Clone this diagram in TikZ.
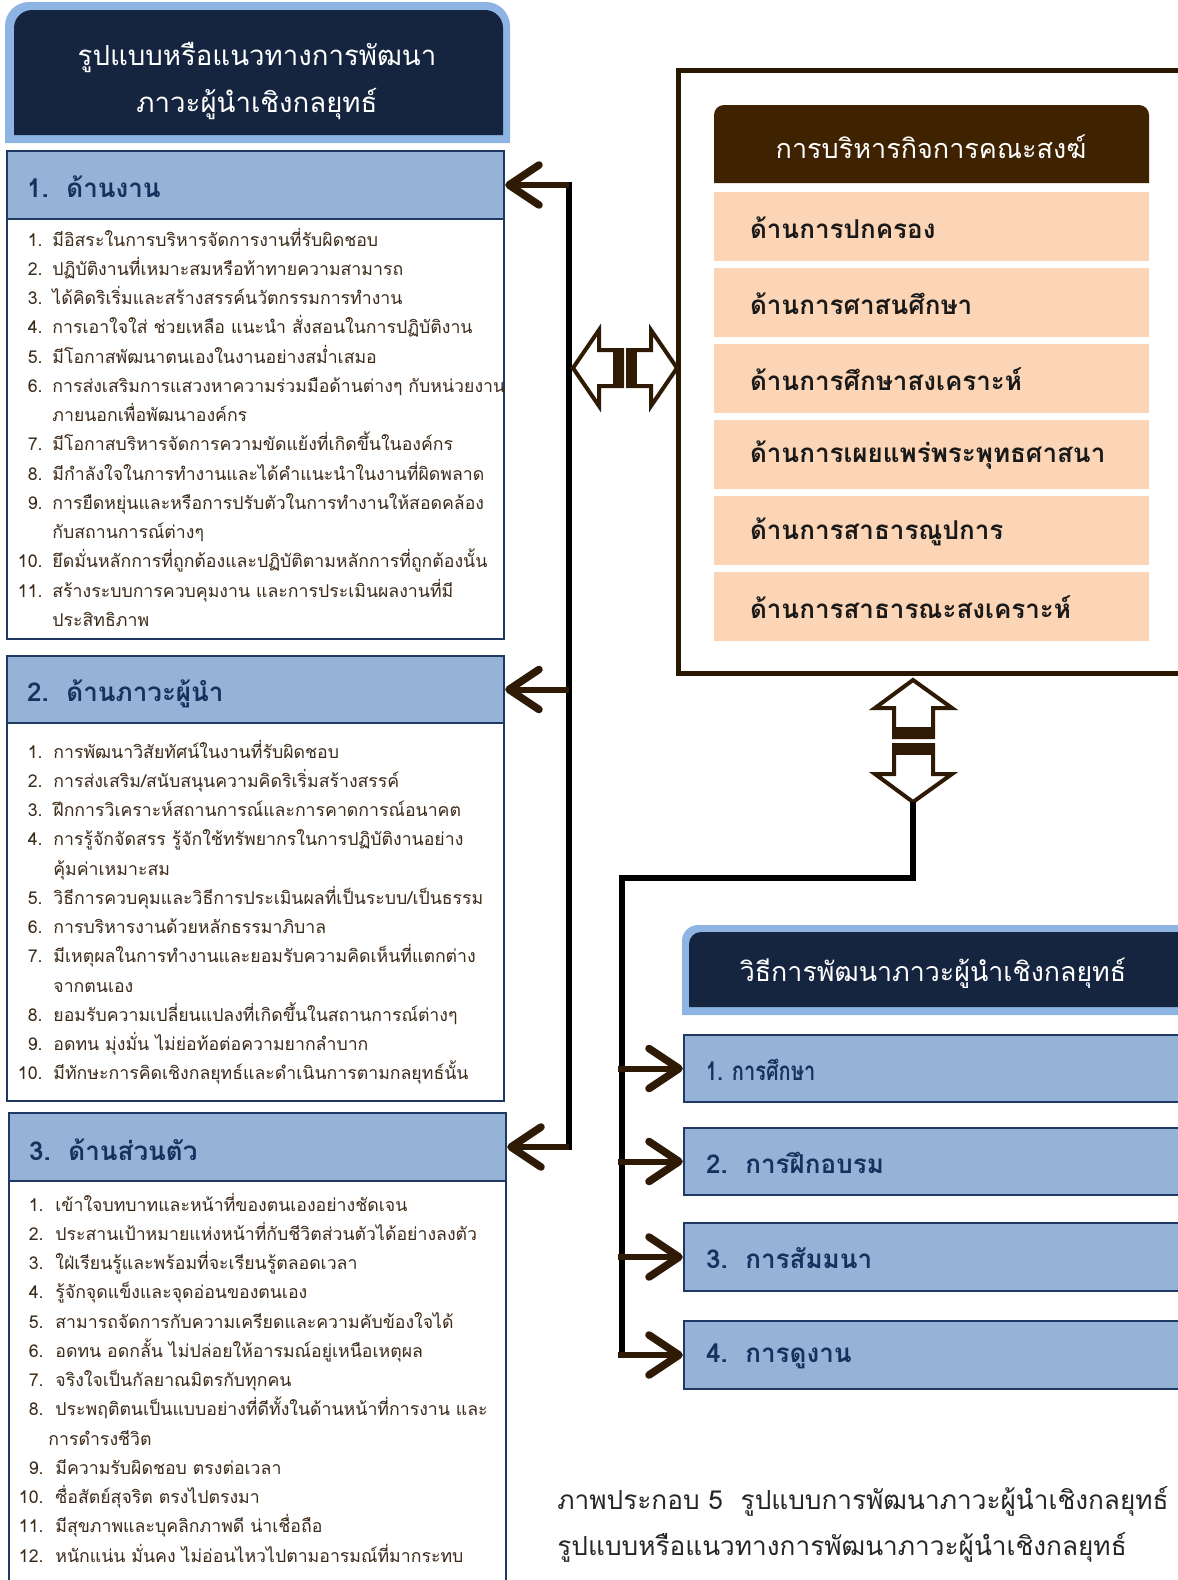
\documentclass[tikz,border=0pt]{standalone}
\usepackage{fontspec}
\setmainfont[Script=Thai]{Loma}
\newfontfamily\condensedthai[Script=Thai,FakeStretch=0.77]{Loma}
\usetikzlibrary{arrows.meta,fit}

\definecolor{navy}{HTML}{15243F}
\definecolor{frameblue}{HTML}{8DB4E2}
\definecolor{hdrblue}{HTML}{95B3D7}
\definecolor{navyline}{HTML}{1F3864}
\definecolor{navytext}{HTML}{17305E}
\definecolor{darkbrown}{HTML}{3F2200}
\definecolor{peach}{HTML}{FBD5B5}
\definecolor{arrowbrown}{HTML}{2F1A06}
\definecolor{listtext}{HTML}{3D2B1A}
\definecolor{framebrown}{HTML}{2A1700}
\definecolor{captiontext}{HTML}{262626}

\newcommand\listfont{\fontsize{8.85}{11}\selectfont}

% one numbered list: prefix, x of numbers, x of text, first baseline, entries
\newcommand\itemlist[5]{%
  \foreach [count=\i] \num/\txt in {#5} {
    \pgfmathsetmacro\yb{#4+(\i-1)*29.25}
    \node[listnum] (#1n\i) at (#2,\yb) {\num};
    \node[listline] (#1t\i) at (#3,\yb) {\txt};
  }}

\begin{document}
\begin{tikzpicture}[x=0.5pt,y=-0.5pt,
  hdr/.style={draw=navyline, line width=1.2pt, fill=hdrblue, inner sep=0pt},
  bodybox/.style={draw=navyline, line width=0.9pt, fill=white, inner sep=0pt},
  hdrtext/.style={text=navytext, font=\fontsize{13}{16}\selectfont\bfseries, inner sep=0pt, anchor=west},
  listnum/.style={text=listtext, font=\listfont, inner sep=0pt, anchor=base east},
  listline/.style={text=listtext, font=\listfont, inner sep=0pt, anchor=base west},
  peachrow/.style={fill=peach, inner sep=0pt},
  rowtext/.style={text=black!90, font=\fontsize{13}{16}\selectfont\bfseries, inner sep=0pt, anchor=west},
  whitetext/.style={text=white, font=\fontsize{13.8}{23.5}\selectfont, inner sep=0pt, align=center},
  frame/.style={draw=framebrown, line width=2.5pt, inner sep=0pt},
  spine/.style={draw=black, line width=3pt, line join=miter},
  linkarrow/.style={draw=arrowbrown, line width=3pt,
    -{Straight Barb[length=15pt,width=20pt,line width=3.8pt,round]}},
  hollow/.style={draw=arrowbrown, line width=2pt, fill=white, line join=miter},
  bar/.style={fill=arrowbrown},
  captionline/.style={text=captiontext, font=\fontsize{13.1}{18}\selectfont, inner sep=0pt, anchor=west}
]
\useasboundingbox (0,0) rectangle (1178,1580);
\clip (0,0) rectangle (1178,1580);

% ---------- title block ----------
\fill[frameblue] (5,143) [rounded corners=12pt] -- (5,2) -- (510,2) [sharp corners] -- (510,143) -- cycle;
\fill[navy] (14,135) [rounded corners=9pt] -- (14,10) -- (503,10) [sharp corners] -- (503,135) -- cycle;
\node[whitetext] (title) at (257,81) {รูปแบบหรือแนวทางการพัฒนา\\ภาวะผู้นำเชิงกลยุทธ์};

% ---------- three aspect boxes ----------
\node[bodybox, fit={(7,219) (504,639)}] (b1) {};
\node[hdr, fit={(7,151) (504,219)}] (h1) {};
\node[hdrtext] (h1t) at ([xshift=10.5pt,yshift=-1pt]h1.west) {1.\ \ ด้านงาน};

\node[bodybox, fit={(7,723) (504,1101)}] (b2) {};
\node[hdr, fit={(7,656) (504,723)}] (h2) {};
\node[hdrtext] (h2t) at ([xshift=10.5pt,yshift=-2pt]h2.west) {2.\ \ ด้านภาวะผู้นำ};

\node[bodybox, fit={(9,1181) (506,1620)}] (b3) {};
\node[hdr, fit={(9,1113) (506,1181)}] (h3) {};
\node[hdrtext] (h3t) at ([xshift=10.5pt,yshift=-1.5pt]h3.west) {3.\ \ ด้านส่วนตัว};

\itemlist{wa}{43}{52}{246}{
  {1.}/{มีอิสระในการบริหารจัดการงานที่รับผิดชอบ},
  {2.}/{ปฏิบัติงานที่เหมาะสมหรือท้าทายความสามารถ},
  {3.}/{ได้คิดริเริ่มและสร้างสรรค์นวัตกรรมการทำงาน},
  {4.}/{การเอาใจใส่ ช่วยเหลือ แนะนำ สั่งสอนในการปฏิบัติงาน},
  {5.}/{มีโอกาสพัฒนาตนเองในงานอย่างสม่ำเสมอ},
  {6.}/{การส่งเสริมการแสวงหาความร่วมมือด้านต่างๆ กับหน่วยงาน},
  {}/{ภายนอกเพื่อพัฒนาองค์กร},
  {7.}/{มีโอกาสบริหารจัดการความขัดแย้งที่เกิดขึ้นในองค์กร},
  {8.}/{มีกำลังใจในการทำงานและได้คำแนะนำในงานที่ผิดพลาด},
  {9.}/{การยืดหยุ่นและหรือการปรับตัวในการทำงานให้สอดคล้อง},
  {}/{กับสถานการณ์ต่างๆ},
  {10.}/{ยึดมั่นหลักการที่ถูกต้องและปฏิบัติตามหลักการที่ถูกต้องนั้น},
  {11.}/{สร้างระบบการควบคุมงาน และการประเมินผลงานที่มี},
  {}/{ประสิทธิภาพ}}

\itemlist{wb}{43}{53}{758}{
  {1.}/{การพัฒนาวิสัยทัศน์ในงานที่รับผิดชอบ},
  {2.}/{การส่งเสริม/สนับสนุนความคิดริเริ่มสร้างสรรค์},
  {3.}/{ฝึกการวิเคราะห์สถานการณ์และการคาดการณ์อนาคต},
  {4.}/{การรู้จักจัดสรร รู้จักใช้ทรัพยากรในการปฏิบัติงานอย่าง},
  {}/{คุ้มค่าเหมาะสม},
  {5.}/{วิธีการควบคุมและวิธีการประเมินผลที่เป็นระบบ/เป็นธรรม},
  {6.}/{การบริหารงานด้วยหลักธรรมาภิบาล},
  {7.}/{มีเหตุผลในการทำงานและยอมรับความคิดเห็นที่แตกต่าง},
  {}/{จากตนเอง},
  {8.}/{ยอมรับความเปลี่ยนแปลงที่เกิดขึ้นในสถานการณ์ต่างๆ},
  {9.}/{อดทน มุ่งมั่น ไม่ย่อท้อต่อความยากลำบาก},
  {10.}/{มีทักษะการคิดเชิงกลยุทธ์และดำเนินการตามกลยุทธ์นั้น}}

\itemlist{wc}{44}{55}{1211}{
  {1.}/{เข้าใจบทบาทและหน้าที่ของตนเองอย่างชัดเจน},
  {2.}/{ประสานเป้าหมายแห่งหน้าที่กับชีวิตส่วนตัวได้อย่างลงตัว},
  {3.}/{ใฝ่เรียนรู้และพร้อมที่จะเรียนรู้ตลอดเวลา},
  {4.}/{รู้จักจุดแข็งและจุดอ่อนของตนเอง},
  {5.}/{สามารถจัดการกับความเครียดและความคับข้องใจได้},
  {6.}/{อดทน อดกลั้น ไม่ปล่อยให้อารมณ์อยู่เหนือเหตุผล},
  {7.}/{จริงใจเป็นกัลยาณมิตรกับทุกคน},
  {8.}/{ประพฤติตนเป็นแบบอย่างที่ดีทั้งในด้านหน้าที่การงาน และ},
  {}/{\kern-3.5pt การดำรงชีวิต},
  {9.}/{มีความรับผิดชอบ ตรงต่อเวลา},
  {10.}/{ซื่อสัตย์สุจริต ตรงไปตรงมา},
  {11.}/{มีสุขภาพและบุคลิกภาพดี น่าเชื่อถือ},
  {12.}/{หนักแน่น มั่นคง ไม่อ่อนไหวไปตามอารมณ์ที่มากระทบ}}

% ---------- left spine feeding the three aspects ----------
\coordinate (j1) at (569,185);
\coordinate (j2) at (569,689.5);
\coordinate (j3) at (569,1147);
\draw[spine, line cap=rect] (j1) -- (j3);
\draw[linkarrow] (j1) -- (h1.east);
\draw[linkarrow] (j2) -- (h2.east);
\draw[linkarrow] (j3) -- (h3.east);

% ---------- sangha administration frame ----------
\node[frame, fit={(678,70) (1210,673)}] (frame) {};
\fill[darkbrown] (714,183) [rounded corners=5pt] -- (714,105) -- (1149,105) [sharp corners] -- (1149,183) -- cycle;
\node[text=white, font=\fontsize{13.5}{16}\selectfont, inner sep=0pt] (adm) at (931,147) {การบริหารกิจการคณะสงฆ์};

\foreach [count=\i] \top/\txt in {192/ด้านการปกครอง, 268/ด้านการศาสนศึกษา, 344/ด้านการศึกษาสงเคราะห์,
    420/ด้านการเผยแพร่พระพุทธศาสนา, 496/ด้านการสาธารณูปการ, 572/ด้านการสาธารณะสงเคราะห์} {
  \pgfmathsetmacro\bot{\top+69}
  \node[peachrow, fit={(714,\top) (1149,\bot)}] (r\i) {};
  \node[rowtext] (r\i t) at ([xshift=18pt,yshift=-0.5pt]r\i.west) {\txt};
}

% ---------- two-way link between the aspects and the frame ----------
\draw[hollow] (573,368) -- (599,330) -- (599,350) -- (622,350) -- (622,386) -- (599,386) -- (599,406) -- cycle;
\fill[bar] (613,350) rectangle (622,386);
\draw[hollow] (677,368) -- (651,330) -- (651,350) -- (628,350) -- (628,386) -- (651,386) -- (651,406) -- cycle;
\fill[bar] (628,350) rectangle (637,386);

% ---------- two-way link between the frame and the methods ----------
\draw[hollow] (913,680) -- (952,708) -- (933,708) -- (933,737) -- (894,737) -- (894,708) -- (875,708) -- cycle;
\fill[bar] (894,727) rectangle (933,737);
\draw[hollow] (913,802) -- (952,774) -- (933,774) -- (933,745) -- (894,745) -- (894,774) -- (875,774) -- cycle;
\fill[bar] (894,745) rectangle (933,755);

% ---------- development methods ----------
\fill[frameblue] (1210,1015) -- (682,1015) [rounded corners=8pt] -- (682,925) [sharp corners] -- (1210,925) -- cycle;
\fill[navy] (1210,1007) -- (689,1007) [rounded corners=6pt] -- (689,932) [sharp corners] -- (1210,932) -- cycle;
\node[whitetext, font=\fontsize{13.4}{16}\selectfont] (meth) at (933,973) {วิธีการพัฒนาภาวะผู้นำเชิงกลยุทธ์};

\foreach [count=\i] \top/\bot/\txt in {1035/1102/{{\condensedthai 1. การศึกษา}}, 1128/1195/{2.\ \ การฝึกอบรม},
    1223/1291/{3.\ \ การสัมมนา}, 1321/1389/{4.\ \ การดูงาน}} {
  \node[hdr, fit={(684,\top) (1210,\bot)}] (m\i) {};
  \node[hdrtext] (m\i t) at ([xshift=11.5pt,yshift=-0.5pt]m\i.west) {\txt};
}

\coordinate (dtip) at (913,802);
\coordinate (k4) at (622,1355);
\draw[spine] (dtip) -- (913,878) -- (622,878) -- ([yshift=-1.5pt]k4);
\foreach \i/\yy in {1/1068.5, 2/1161.5, 3/1257, 4/1355}
  \draw[linkarrow] (618,\yy) -- (m\i.west);

% ---------- caption ----------
\node[captionline] (cap1) at (557,1501) {ภาพประกอบ 5\ \ รูปแบบการพัฒนาภาวะผู้นำเชิงกลยุทธ์};
\node[captionline] (cap2) at (557,1547) {รูปแบบหรือแนวทางการพัฒนาภาวะผู้นำเชิงกลยุทธ์};
\end{tikzpicture}
\end{document}
